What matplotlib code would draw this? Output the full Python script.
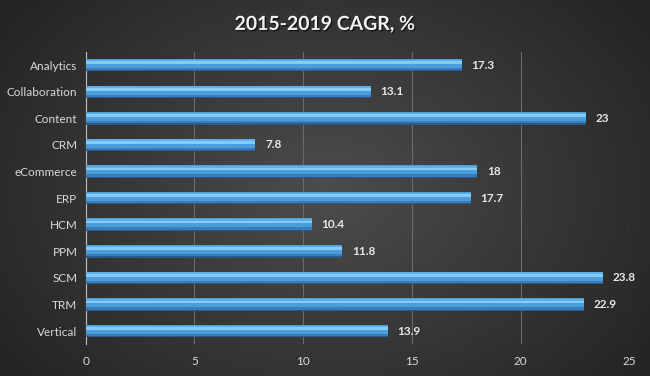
import numpy as np
from matplotlib import pyplot as plt
import matplotlib.patheffects as pe

# data
categories = ['Analytics', 'Collaboration', 'Content', 'CRM', 'eCommerce', 'ERP',
              'HCM', 'PPM', 'SCM', 'TRM', 'Vertical']
cagr = [17.3, 13.1, 23, 7.8, 18, 17.7, 10.4, 11.8, 23.8, 22.9, 13.9]
value_labels = ['17.3', '13.1', '23', '7.8', '18', '17.7', '10.4', '11.8', '23.8', '22.9', '13.9']
xticks = [0, 5, 10, 15, 20, 25]

plt.rcParams['font.family'] = ['Lato', 'DejaVu Sans']

fig = plt.figure(figsize=(6.5, 3.76), dpi=100)

# radial gradient background
bg = fig.add_axes([0, 0, 1, 1], zorder=-10)
yy, xx = np.mgrid[0:376, 0:650]
d = np.sqrt(((xx - 325) / 400.0) ** 2 + ((yy - 190) / 300.0) ** 2)
shade = 0.30 - 0.16 * np.clip(d, 0, 1)
bg.imshow(np.dstack([shade, shade, shade]), aspect='auto', extent=[0, 1, 0, 1])
bg.axis('off')

ax = fig.add_axes([0.132, 0.084, 0.836, 0.778])
ax.patch.set_alpha(0)
y = np.arange(len(categories))

# bevelled bars, built up from strips (y axis inverted: smaller y = visually higher)
h = 0.47
top = y - h / 2
ax.barh(y, cagr, height=h, color='#4c9ddb', linewidth=0, zorder=3)
ax.barh(top + h * 0.06, cagr, height=h * 0.12, align='edge', color='#5fb0ea', linewidth=0, zorder=4)
ax.barh(top + h * 0.18, cagr, height=h * 0.22, align='edge', color='#84cbf6', linewidth=0, zorder=4)
ax.barh(top + h * 0.72, cagr, height=h * 0.18, align='edge', color='#3b7dba', linewidth=0, zorder=4)
ax.barh(top + h * 0.90, cagr, height=h * 0.10, align='edge', color='#2a5a86', linewidth=0, zorder=4)

for yi, v, lab in zip(y, cagr, value_labels):
    ax.text(v + 0.45, yi, lab, color='#e8e8e8', fontsize=8.5, fontweight='bold',
            va='center', ha='left', zorder=5)

ax.set_xlim(0, 25)
ax.set_ylim(len(categories) - 0.5, -0.5)
ax.set_xticks(xticks)
ax.set_yticks(y)
ax.set_yticklabels(categories)
ax.tick_params(colors='#d9d9d9', labelsize=8.5, length=0)
ax.tick_params(axis='x', pad=8)
ax.tick_params(axis='y', pad=6)
ax.grid(axis='x', color='#6a6a6a', linewidth=0.8, zorder=0)
for s in ['top', 'right', 'bottom']:
    ax.spines[s].set_visible(False)
ax.spines['left'].set_color('#bfbfbf')
ax.spines['left'].set_linewidth(0.8)

fig.text(0.5, 0.935, '2015-2019 CAGR, %', ha='center', va='center', color='#f2f2f2',
         fontsize=14, fontweight='bold',
         path_effects=[pe.withSimplePatchShadow(offset=(1, -1), shadow_rgbFace='black', alpha=0.6)])

fig.savefig('out.png', dpi=100)
